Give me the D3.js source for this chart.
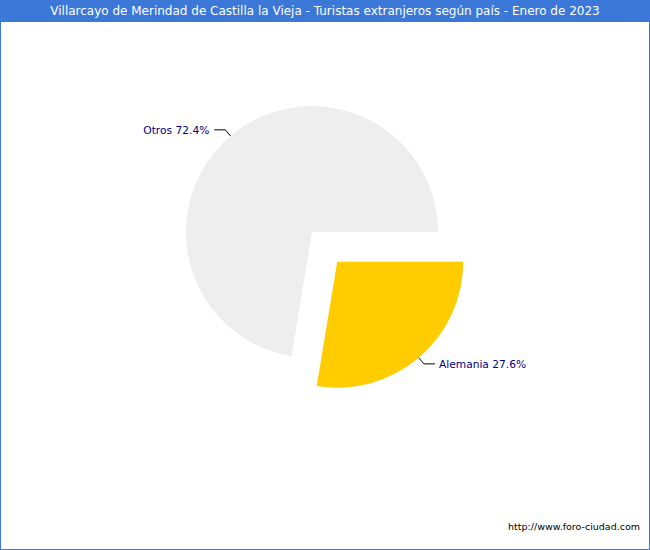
<!DOCTYPE html>
<html><head><meta charset="utf-8">
<script src="https://cdn.jsdelivr.net/npm/d3@7"></script>
<style>html,body{margin:0;padding:0;background:#fff;}svg{display:block;}</style>
</head><body>
<script>
const categories = ["Otros", "Alemania"];
const values = [72.4, 27.6];
const colors = ["#eeeeee", "#ffcc00"];
const exploded = [false, true];
const title = "Villarcayo de Merindad de Castilla la Vieja - Turistas extranjeros según país - Enero de 2023";
const footer = "http://www.foro-ciudad.com";

const W = 650, H = 550;
const cx = 312, cy = 232, R = 126, explode = 39;

const svg = d3.select("body").append("svg").attr("width", W).attr("height", H);
svg.append("rect").attr("x", 0.5).attr("y", 0.5).attr("width", W - 1).attr("height", H - 1)
  .attr("fill", "#fff").attr("stroke", "#3c78d8").attr("stroke-width", 1);
svg.append("rect").attr("x", 0).attr("y", 0).attr("width", W).attr("height", 22).attr("fill", "#3c78d8");
svg.append("text").attr("x", W / 2).attr("y", 11).attr("dy", "0.35em").attr("text-anchor", "middle")
  .attr("fill", "#fff").style("font-family", "DejaVu Sans, Verdana, sans-serif").style("font-size", "12px")
  .text(title);

const data = categories.map((c, i) => ({ cat: c, val: values[i], color: colors[i], ex: exploded[i] }));
const total = d3.sum(values);
const start = Math.PI / 2 + (values[1] / total) * 2 * Math.PI;
const pie = d3.pie().value(d => d.val).sort(null).startAngle(start).endAngle(start + 2 * Math.PI);
const arcs = pie(data);
const arc = d3.arc().innerRadius(0).outerRadius(R);

const g = svg.append("g").attr("transform", `translate(${cx},${cy})`);
arcs.forEach(a => {
  const mid = (a.startAngle + a.endAngle) / 2;
  const off = a.data.ex ? explode : 0;
  const ox = off * Math.sin(mid), oy = -off * Math.cos(mid);
  const sg = g.append("g").attr("transform", `translate(${ox},${oy})`);
  sg.append("path").attr("d", arc(a)).attr("fill", a.data.color);
  const p1 = [R * Math.sin(mid), -R * Math.cos(mid)];
  const p2 = [(R + 8) * Math.sin(mid), -(R + 8) * Math.cos(mid)];
  const right = Math.sin(mid) > 0;
  const p3 = [p2[0] + (right ? 11 : -11), p2[1]];
  sg.append("polyline").attr("points", [p1, p2, p3].map(p => p.join(",")).join(" "))
    .attr("fill", "none").attr("stroke", "#000").attr("stroke-width", 1);
  sg.append("text").attr("x", p3[0] + (right ? 4 : -5)).attr("y", p3[1]).attr("dy", "0.35em")
    .attr("text-anchor", right ? "start" : "end").attr("fill", "#000080")
    .style("font-family", "DejaVu Sans, Verdana, sans-serif").style("font-size", "10.67px")
    .text(`${a.data.cat} ${a.data.val.toFixed(1)}%`);
});

svg.append("text").attr("x", 640).attr("y", 530).attr("text-anchor", "end").attr("fill", "#000")
  .style("font-family", "DejaVu Sans, Verdana, sans-serif").style("font-size", "9.5px").text(footer);
</script>
</body></html>
